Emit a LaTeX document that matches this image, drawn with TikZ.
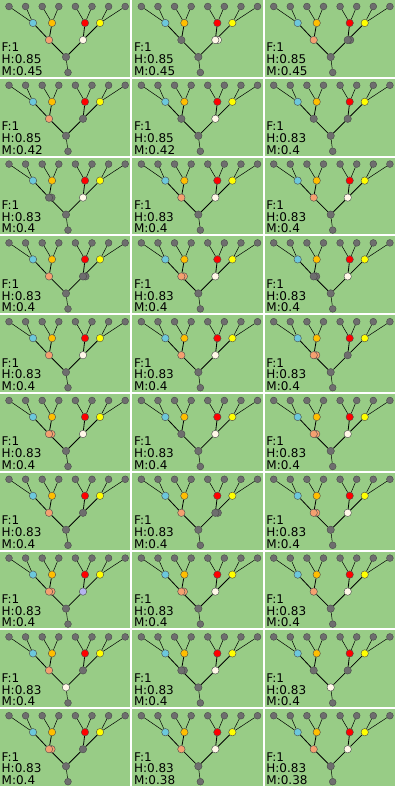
\documentclass[tikz,border=0pt]{standalone}
\usepackage{fontspec}
\setmainfont{DejaVu Sans}
\usetikzlibrary{backgrounds}
\definecolor{PanelGreen}{HTML}{98CC86}
\definecolor{DotGrey}{HTML}{6E6E6E}
\definecolor{DotRim}{HTML}{484848}
\definecolor{DotSky}{HTML}{6CC8DC}
\definecolor{DotAmber}{HTML}{FFBE00}
\definecolor{DotRed}{HTML}{FF0000}
\definecolor{DotYellow}{HTML}{FFFF00}
\definecolor{DotSalmon}{HTML}{F4A070}
\definecolor{DotCream}{HTML}{FFF8E8}
\definecolor{DotLilac}{HTML}{B4B4F0}

\begin{document}
\begin{tikzpicture}[x=1pt, y=-1pt,
  dot/.style={circle, draw=DotRim, line width=0.4pt, fill=DotGrey, minimum size=6.8pt, inner sep=0pt},
  hub/.style={dot, minimum size=7.4pt},
  link/.style={draw=black, line width=0.5pt},
  trunk/.style={draw=black, line width=0.8pt},
  score/.style={anchor=base west, inner sep=0pt, font=\fontsize{12}{12}\selectfont}
]
\begin{scope}[on background layer]
  \fill[white] (0,0) rectangle (395,786);
\end{scope}
\useasboundingbox (0,0) rectangle (395,786);
% column/row/left colour/twin/right colour/twin/root colour/H/M
\foreach \c/\r/\ca/\da/\cb/\db/\cr/\h/\m in {
  0/0/DotSalmon/0/DotCream/0/DotGrey/0.85/0.45,
  1/0/DotGrey/0/DotCream/1/DotGrey/0.85/0.45,
  2/0/DotSalmon/0/DotGrey/1/DotGrey/0.85/0.45,
  0/1/DotSalmon/0/DotGrey/0/DotGrey/0.85/0.42,
  1/1/DotGrey/0/DotCream/0/DotGrey/0.85/0.42,
  2/1/DotGrey/0/DotGrey/0/DotGrey/0.83/0.4,
  0/2/DotGrey/1/DotCream/0/DotGrey/0.83/0.4,
  1/2/DotSalmon/0/DotCream/0/DotGrey/0.83/0.4,
  2/2/DotSalmon/0/DotCream/0/DotGrey/0.83/0.4,
  0/3/DotSalmon/0/DotGrey/1/DotGrey/0.83/0.4,
  1/3/DotSalmon/1/DotCream/0/DotGrey/0.83/0.4,
  2/3/DotGrey/1/DotCream/0/DotGrey/0.83/0.4,
  0/4/DotSalmon/0/DotCream/0/DotGrey/0.83/0.4,
  1/4/DotSalmon/0/DotCream/0/DotGrey/0.83/0.4,
  2/4/DotSalmon/1/DotGrey/0/DotGrey/0.83/0.4,
  0/5/DotSalmon/1/DotCream/0/DotGrey/0.83/0.4,
  1/5/DotGrey/0/DotCream/0/DotGrey/0.83/0.4,
  2/5/DotSalmon/1/DotCream/0/DotGrey/0.83/0.4,
  0/6/DotSalmon/0/DotGrey/0/DotGrey/0.83/0.4,
  1/6/DotSalmon/0/DotGrey/1/DotGrey/0.83/0.4,
  2/6/DotSalmon/1/DotCream/0/DotGrey/0.83/0.4,
  0/7/DotSalmon/1/DotLilac/0/DotGrey/0.83/0.4,
  1/7/DotSalmon/1/DotCream/0/DotGrey/0.83/0.4,
  2/7/DotSalmon/0/DotCream/0/DotGrey/0.83/0.4,
  0/8/DotSalmon/0/DotGrey/0/DotCream/0.83/0.4,
  1/8/DotGrey/1/DotCream/0/DotGrey/0.83/0.4,
  2/8/DotGrey/0/DotGrey/0/DotCream/0.83/0.4,
  0/9/DotSalmon/1/DotGrey/0/DotGrey/0.83/0.4,
  1/9/DotSalmon/0/DotCream/0/DotGrey/0.83/0.38,
  2/9/DotSalmon/0/DotCream/0/DotGrey/0.83/0.38}{
  \begin{scope}[shift={(\c*132.35,\r*78.8)}]
    \foreach \i in {1,...,8}
      \node[dot] (l\i) at ({9+(\i-1)*16.6},6.5) {};
    \node[hub, fill=DotSky] (m1) at (33,23) {};
    \node[hub, fill=DotAmber] (m2) at (52,23) {};
    \node[hub, fill=DotRed] (m3) at (85,23) {};
    \node[hub, fill=DotYellow] (m4) at (100,23) {};
    \ifnum\da=1 \node[hub, fill=\ca] (t1b) at (51.5,40) {}; \fi
    \node[hub, fill=\ca] (t1) at (49,40) {};
    \ifnum\db=1 \node[hub, fill=\cb] (t2b) at (85.5,40) {}; \fi
    \node[hub, fill=\cb] (t2) at (83,40) {};
    \node[hub, fill=\cr] (rt) at (66,57) {};
    \node[dot] (bt) at (68,72.5) {};
    \node[score] (fv) at (1.5,51.8) {F:1};
    \node[score] (hv) at (1.5,63.6) {H:\h};
    \node[score] (mv) at (1.5,75.3) {M:\m};
    \begin{scope}[on background layer]
      \fill[PanelGreen] (0,0) rectangle (130.3,76.8);
      \draw[link] (l1) -- (m1) (l2) -- (m1) (l3) -- (m2) (l4) -- (m2)
        (l5) -- (m3) (l6) -- (m3) (l7) -- (m4) (l8) -- (m4);
      \draw[trunk] (m1) -- (t1) (m2) -- (t1) (m3) -- (t2) (m4) -- (t2)
        (t1) -- (rt) (t2) -- (rt);
      \draw[link] (rt) -- (bt);
    \end{scope}
  \end{scope}
}
\end{tikzpicture}
\end{document}
